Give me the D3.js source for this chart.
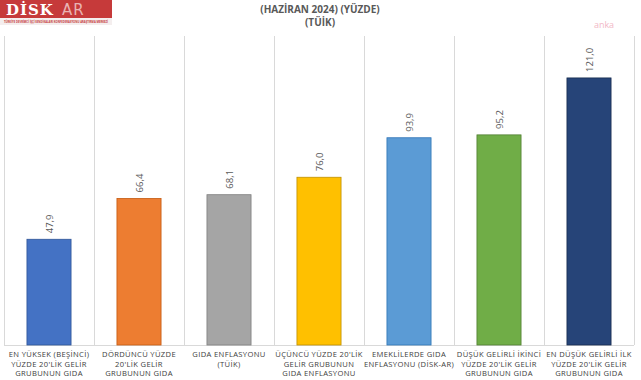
<!DOCTYPE html>
<html><head><meta charset="utf-8">
<script src="https://cdn.jsdelivr.net/npm/d3@7"></script>
<style>
html,body{margin:0;padding:0;background:#fff;}
svg{display:block;font-family:"Open Sans","Noto Sans",sans-serif;}
</style></head>
<body>
<svg id="chart" width="641" height="380"></svg>
<script>
const categories = [
  "EN YÜKSEK (BEŞİNCİ) YÜZDE 20'LİK GELİR GRUBUNUN GIDA ENFLASYONU",
  "DÖRDÜNCÜ YÜZDE 20'LİK GELİR GRUBUNUN GIDA ENFLASYONU",
  "GIDA ENFLASYONU (TÜİK)",
  "ÜÇÜNCÜ YÜZDE 20'LİK GELİR GRUBUNUN GIDA ENFLASYONU",
  "EMEKLİLERDE GIDA ENFLASYONU (DİSK-AR)",
  "DÜŞÜK GELİRLİ İKİNCİ YÜZDE 20'LİK GELİR GRUBUNUN GIDA ENFLASYONU",
  "EN DÜŞÜK GELİRLİ İLK YÜZDE 20'LİK GELİR GRUBUNUN GIDA ENFLASYONU"
];
// visible lines of each category label (the rest falls below the picture's edge)
const labelLines = [
  ["EN YÜKSEK (BEŞİNCİ)", "YÜZDE 20'LİK GELİR", "GRUBUNUN GIDA"],
  ["DÖRDÜNCÜ YÜZDE", "20'LİK GELİR", "GRUBUNUN GIDA"],
  ["GIDA ENFLASYONU", "(TÜİK)"],
  ["ÜÇÜNCÜ YÜZDE 20'LİK", "GELİR GRUBUNUN", "GIDA ENFLASYONU"],
  ["EMEKLİLERDE GIDA", "ENFLASYONU (DİSK-AR)"],
  ["DÜŞÜK GELİRLİ İKİNCİ", "YÜZDE 20'LİK GELİR", "GRUBUNUN GIDA"],
  ["EN DÜŞÜK GELİRLİ İLK", "YÜZDE 20'LİK GELİR", "GRUBUNUN GIDA"]
];
const values = [47.9, 66.4, 68.1, 76.0, 93.9, 95.2, 121.0];
const colors = ["#4472c4", "#ed7d31", "#a5a5a5", "#ffc000", "#5b9bd5", "#70ad47", "#264478"];
const strokes = ["#2f5597", "#c55a11", "#7f7f7f", "#bf9000", "#2e75b6", "#507e32", "#172c4e"];
const titleLines = ["(HAZİRAN 2024) (YÜZDE)", "(TÜİK)"];

const svg = d3.select("#chart");
const plotLeft = 4, plotRight = 634, plotTop = 36, plotBottom = 345;

const x = d3.scaleBand().domain(d3.range(categories.length)).range([plotLeft, plotRight]).paddingInner(0).paddingOuter(0);
const y = d3.scaleLinear().domain([0, 140]).range([plotBottom, plotTop]);

// vertical gridlines (category separators)
const seps = d3.range(categories.length + 1).map(i => plotLeft + i * x.bandwidth());
svg.append("g").selectAll("line").data(seps).join("line")
  .attr("x1", d => d + 0.5).attr("x2", d => d + 0.5)
  .attr("y1", plotTop).attr("y2", plotBottom)
  .attr("stroke", "#d9d9d9").attr("stroke-width", 1);

// baseline
svg.append("line").attr("x1", plotLeft).attr("x2", plotRight)
  .attr("y1", y(0) + 0.5).attr("y2", y(0) + 0.5)
  .attr("stroke", "#d9d9d9").attr("stroke-width", 1);

const bw = x.bandwidth() * 0.49;
svg.append("g").selectAll("rect").data(values).join("rect")
  .attr("x", (d, i) => x(i) + (x.bandwidth() - bw) / 2)
  .attr("y", d => y(d))
  .attr("width", bw)
  .attr("height", d => y(0) - y(d))
  .attr("fill", (d, i) => colors[i])
  .attr("stroke", (d, i) => strokes[i])
  .attr("stroke-width", 0.8);

// value labels (rotated)
svg.append("g").selectAll("text").data(values).join("text")
  .attr("transform", (d, i) => `translate(${x(i) + x.bandwidth() / 2 + 3.5},${y(d) - 6}) rotate(-90)`)
  .attr("text-anchor", "start")
  .attr("font-size", 9.5)
  .attr("fill", "#595959")
  .text(d => d.toFixed(1).replace(".", ","));

// category labels
const lg = svg.append("g");
labelLines.forEach((lines, i) => {
  const t = lg.append("text")
    .attr("x", x(i) + x.bandwidth() / 2)
    .attr("y", 357)
    .attr("text-anchor", "middle")
    .attr("font-size", 7.6)
    .attr("letter-spacing", 0.35)
    .attr("fill", "#404040");
  lines.forEach((ln, k) => {
    t.append("tspan").attr("x", x(i) + x.bandwidth() / 2).attr("dy", k === 0 ? 0 : 9.6).text(ln);
  });
});

// title
svg.append("g").selectAll("text").data(titleLines).join("text")
  .attr("x", 320).attr("y", (d, i) => 13 + i * 13)
  .attr("text-anchor", "middle")
  .attr("font-size", 10)
  .attr("font-weight", "bold")
  .attr("fill", "#595959")
  .text(d => d);

// logo
const logo = svg.append("g");
logo.append("rect").attr("x", 0).attr("y", 0).attr("width", 112).attr("height", 18).attr("fill", "#c63a3a");
logo.append("rect").attr("x", 0).attr("y", 18).attr("width", 112).attr("height", 7).attr("fill", "#f4eeee");
logo.append("text").attr("x", 6).attr("y", 14.5).attr("font-family", "DejaVu Serif, serif").attr("font-weight", "bold")
  .attr("font-size", 15).attr("fill", "#ffffff").attr("letter-spacing", 1).text("DİSK");
logo.append("text").attr("x", 62).attr("y", 14.5).attr("font-family", "DejaVu Sans, sans-serif")
  .attr("font-size", 15).attr("fill", "#e9b3b3").attr("letter-spacing", 1).text("AR");
logo.append("text").attr("x", 4).attr("y", 23.2)
  .attr("font-size", 3.4).attr("fill", "#c63a3a").attr("font-weight", "bold")
  .attr("textLength", 104).attr("lengthAdjust", "spacingAndGlyphs")
  .text("TÜRKİYE DEVRİMCİ İŞÇİ SENDİKALARI KONFEDERASYONU ARAŞTIRMA MERKEZİ");

// watermark
svg.append("text").attr("x", 604).attr("y", 28).attr("text-anchor", "middle")
  .attr("font-size", 9).attr("fill", "#f2b8c6").text("anka");
</script>
</body></html>
